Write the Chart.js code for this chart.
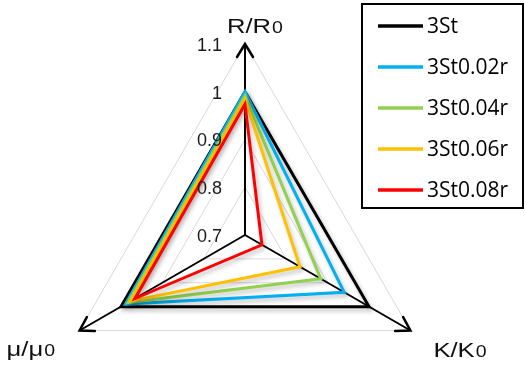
<!DOCTYPE html>
<html>
<head>
<meta charset="UTF-8">
<title>R/R0 K/K0 μ/μ0</title>
<script src="https://cdn.jsdelivr.net/npm/chart.js"></script>
<style>
    html, body {
        margin: 0;
        padding: 0;
        background: #fff;
        overflow: hidden;
    }

    #wrap {
        position: relative;
        width: 525px;
        height: 430px;
    }
</style>
</head>
<body>
<div id="wrap"><canvas id="radar"></canvas></div>
<script>
    // axes, clockwise from the top
    var axes = ['R/R0', 'K/K0', 'μ/μ0'];
    var seriesNames = ['3St', '3St0.02r', '3St0.04r', '3St0.06r', '3St0.08r'];
    var s3St = [1.0, 1.0, 1.0];
    var s002r = [1.0, 0.94, 0.989];
    var s004r = [0.992, 0.883, 0.983];
    var s006r = [0.985, 0.833, 0.977];
    var s008r = [0.974, 0.741, 0.966];
    var tickValues = [0.7, 0.8, 0.9, 1, 1.1];
    var tickLabels = ['0.7', '0.8', '0.9', '1', '1.1'];

    var seriesValues = [s3St, s002r, s004r, s006r, s008r];
    var colors = ['#000000', '#00b0f0', '#92d050', '#ffc000', '#ff0000'];

    // text with a horizontal stretch, drawn from (x, y) on the baseline
    function stretchText(ctx, text, x, y, font, sx) {
        ctx.save();
        ctx.font = font;
        ctx.translate(x, y);
        ctx.scale(sx, 1);
        ctx.fillText(text, 0, 0);
        var w = ctx.measureText(text).width * sx;
        ctx.restore();
        return w;
    }

    var radarDecor = {
        id: 'radarDecor',
        beforeDatasetsDraw: function (chart) {
            var ctx = chart.ctx;
            ctx.save();
            ctx.shadowColor = 'rgba(0,0,0,0.25)';
            ctx.shadowBlur = 4;
            ctx.shadowOffsetX = 2;
            ctx.shadowOffsetY = 3;
        },
        afterDatasetsDraw: function (chart) {
            chart.ctx.restore();
        },
        afterDraw: function (chart) {
            var ctx = chart.ctx;
            var sc = chart.scales.r;
            var cx = sc.xCenter, cy = sc.yCenter;
            var top = tickValues[tickValues.length - 1];

            // arrow heads at the end of each axis
            ctx.save();
            ctx.strokeStyle = '#000';
            ctx.lineWidth = 2.5;
            ctx.lineCap = 'round';
            for (var i = 0; i < axes.length; i++) {
                var p = sc.getPointPositionForValue(i, top);
                var dx = p.x - cx, dy = p.y - cy;
                var d = Math.sqrt(dx * dx + dy * dy);
                var ux = dx / d, uy = dy / d;
                var len = 13, half = 8;
                ctx.beginPath();
                ctx.moveTo(p.x - ux * len - uy * half, p.y - uy * len + ux * half);
                ctx.lineTo(p.x, p.y);
                ctx.lineTo(p.x - ux * len + uy * half, p.y - uy * len - ux * half);
                ctx.stroke();
            }
            ctx.restore();

            // tick labels beside the vertical axis
            ctx.save();
            ctx.fillStyle = '#1a1a1a';
            ctx.font = '18px "Liberation Sans", Arial, sans-serif';
            ctx.textAlign = 'right';
            ctx.textBaseline = 'middle';
            tickValues.forEach(function (v, k) {
                var r = sc.getDistanceFromCenterForValue(v);
                ctx.fillText(tickLabels[k], cx - 23, cy - r + 2);
            });
            ctx.restore();

            // axis titles, last character set smaller
            var offsets = [[-18, -11], [23, 26.5], [-73, 25.5]];
            ctx.save();
            ctx.fillStyle = '#111';
            ctx.textAlign = 'left';
            ctx.textBaseline = 'alphabetic';
            axes.forEach(function (name, i) {
                var p = sc.getPointPositionForValue(i, top);
                var x = p.x + offsets[i][0], y = p.y + offsets[i][1];
                var w = stretchText(ctx, name.slice(0, -1), x, y, '21px "Liberation Sans", Arial, sans-serif', 1.22);
                stretchText(ctx, name.slice(-1), x + w + 1, y, '16px "Liberation Sans", Arial, sans-serif', 1.22);
            });
            ctx.restore();

            // legend box
            ctx.save();
            ctx.strokeStyle = '#000';
            ctx.lineWidth = 2;
            ctx.strokeRect(362, 4, 161, 204);
            ctx.font = '21px "Open Sans", sans-serif';
            ctx.textBaseline = 'middle';
            ctx.textAlign = 'left';
            chart.data.datasets.forEach(function (ds, i) {
                var y = 26 + 41 * i;
                ctx.strokeStyle = ds.borderColor;
                ctx.lineWidth = 3.5;
                ctx.beginPath();
                ctx.moveTo(378, y);
                ctx.lineTo(423, y);
                ctx.stroke();
                ctx.fillStyle = '#000';
                ctx.fillText(ds.label, 427, y + 1);
            });
            ctx.restore();
        }
    };

    new Chart(document.getElementById('radar'), {
        type: 'radar',
        data: {
            labels: axes,
            datasets: seriesNames.map(function (name, i) {
                return {
                    label: name,
                    data: seriesValues[i],
                    borderColor: colors[i],
                    backgroundColor: 'rgba(0,0,0,0)',
                    fill: false,
                    order: seriesNames.length - i
                };
            })
        },
        options: {
            responsive: true,
            maintainAspectRatio: false,
            animation: false,
            layout: {
                padding: { left: 54, right: 89, top: 44, bottom: 4 }
            },
            plugins: {
                legend: { display: false },
                tooltip: { enabled: false }
            },
            elements: {
                line: { borderWidth: 3, tension: 0, borderJoinStyle: 'miter' },
                point: { radius: 0, hoverRadius: 0 }
            },
            scales: {
                r: {
                    min: tickValues[0],
                    max: tickValues[tickValues.length - 1],
                    ticks: { display: false, stepSize: 0.1 },
                    grid: { color: '#d9d9d9', lineWidth: 1 },
                    angleLines: { color: '#000', lineWidth: 2 },
                    pointLabels: { display: false }
                }
            }
        },
        plugins: [radarDecor]
    });
</script>
</body>
</html>
